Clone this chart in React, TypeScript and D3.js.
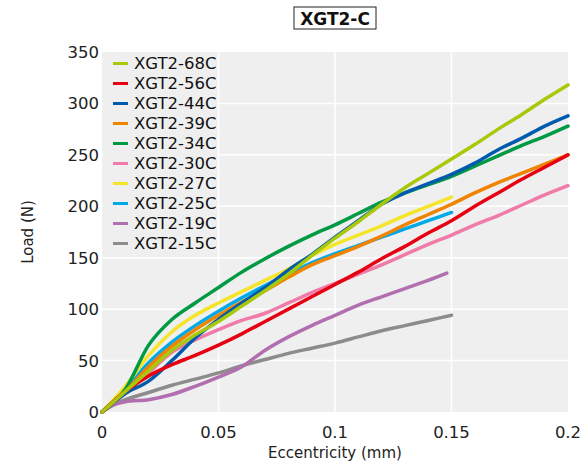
import React from 'react';
import * as d3 from 'd3';

// eccentricity (mm) sample points
const ECC_LONG = [0, 0.01, 0.02, 0.03, 0.04, 0.05, 0.06, 0.07, 0.08, 0.09, 0.1, 0.11, 0.12, 0.13, 0.14, 0.15, 0.16, 0.17, 0.18, 0.19, 0.2];
const ECC_SHORT = [0, 0.01, 0.02, 0.03, 0.04, 0.05, 0.06, 0.07, 0.08, 0.09, 0.1, 0.11, 0.12, 0.13, 0.14, 0.15];
const ECC_19C = [0, 0.005, 0.01, 0.02, 0.03, 0.04, 0.05, 0.06, 0.07, 0.08, 0.09, 0.1, 0.11, 0.12, 0.13, 0.14, 0.148];
const ECC_15C = [0, 0.005, 0.01, 0.02, 0.03, 0.04, 0.05, 0.06, 0.07, 0.08, 0.09, 0.1, 0.11, 0.12, 0.13, 0.14, 0.15];

// load (N)
const LOAD_68C = [0, 20, 40, 60, 75, 88, 103, 118, 134, 152, 169, 185, 202, 218, 232, 246, 260, 275, 289, 304, 318];
const LOAD_56C = [0, 20, 35, 46, 55, 65, 76, 88, 100, 112, 124, 136, 149, 161, 174, 186, 200, 213, 226, 238, 250];
const LOAD_44C = [0, 18, 30, 50, 72, 90, 106, 121, 138, 153, 170, 186, 202, 213, 222, 231, 242, 255, 266, 278, 288];
const LOAD_39C = [0, 20, 44, 64, 80, 94, 107, 118, 131, 143, 152, 161, 171, 182, 192, 202, 213, 223, 232, 241, 250];
const LOAD_34C = [0, 22, 65, 90, 106, 121, 136, 149, 161, 172, 182, 193, 204, 213, 221, 229, 239, 249, 259, 268, 278];
const LOAD_30C = [0, 18, 38, 58, 70, 80, 89, 96, 106, 116, 125, 134, 143, 153, 163, 172, 182, 191, 201, 211, 220];
const LOAD_27C = [0, 25, 55, 78, 94, 106, 117, 128, 139, 152, 163, 172, 181, 191, 200, 209];
const LOAD_25C = [0, 22, 48, 68, 84, 98, 111, 123, 134, 145, 154, 162, 170, 178, 186, 194];
const LOAD_19C = [0, 7, 10, 12, 17, 25, 34, 44, 60, 73, 84, 94, 104, 112, 120, 128, 135];
const LOAD_15C = [0, 7, 12, 19, 26, 32, 38, 45, 51, 57, 62, 67, 73, 79, 84, 89, 94];

const NAMES = ['XGT2-68C', 'XGT2-56C', 'XGT2-44C', 'XGT2-39C', 'XGT2-34C', 'XGT2-30C', 'XGT2-27C', 'XGT2-25C', 'XGT2-19C', 'XGT2-15C'];
const COLORS = ['#a8c80a', '#e60012', '#005bac', '#f08300', '#009944', '#f07aa8', '#f5e52a', '#00a9e8', '#b26fb0', '#8c8c8c'];
const XS = [ECC_LONG, ECC_LONG, ECC_LONG, ECC_LONG, ECC_LONG, ECC_LONG, ECC_SHORT, ECC_SHORT, ECC_19C, ECC_15C];
const YS = [LOAD_68C, LOAD_56C, LOAD_44C, LOAD_39C, LOAD_34C, LOAD_30C, LOAD_27C, LOAD_25C, LOAD_19C, LOAD_15C];

const X_TICKS = [0, 0.05, 0.1, 0.15, 0.2];
const Y_TICKS = [0, 50, 100, 150, 200, 250, 300, 350];

const W = 584;
const H = 465;
const margin = { top: 52, right: 16, bottom: 53, left: 102 };
const FONT = '"DejaVu Sans", "Noto Sans", sans-serif';

export default function App() {
  const x = d3.scaleLinear().domain([0, 0.2]).range([margin.left, W - margin.right]);
  const y = d3.scaleLinear().domain([0, 350]).range([H - margin.bottom, margin.top]);

  const line = d3.line<[number, number]>()
    .x(d => x(d[0]))
    .y(d => y(d[1]))
    .curve(d3.curveMonotoneX);

  const series = NAMES.map((name, i) => ({
    name,
    color: COLORS[i],
    pts: XS[i].map((e, j) => [e, YS[i][j]] as [number, number]),
  }));

  const cx = (x(0) + x(0.2)) / 2;
  const legendX = x(0) + 11;
  const legendY = y(350) + 11.5;
  const rowH = 20;

  return (
    <svg width={W} height={H} style={{ position: 'absolute', left: 0, top: 0, fontFamily: FONT }}>
      <rect x={0} y={0} width={W} height={H} fill="#fff" />
      {/* title */}
      <rect x={cx - 41} y={7} width={82} height={22} fill="#fff" stroke="#222" strokeWidth={1} />
      <text x={cx} y={24.5} textAnchor="middle" fontSize={17} fontWeight="bold" fill="#111">XGT2-C</text>

      {/* plot background */}
      <rect x={x(0)} y={y(350)} width={x(0.2) - x(0)} height={y(0) - y(350)} fill="#efefef" />
      {Y_TICKS.slice(1, -1).map(t => (
        <line key={'gy' + t} x1={x(0)} x2={x(0.2)} y1={y(t)} y2={y(t)} stroke="#fff" strokeWidth={1.5} />
      ))}
      {/* legend box hides grid behind it */}
      <rect x={x(0) + 1} y={y(350)} width={x(0.05) - x(0) - 2} height={rowH * NAMES.length + 2} fill="#efefef" />
      {X_TICKS.slice(1, -1).map(t => (
        <line key={'gx' + t} x1={x(t)} x2={x(t)} y1={y(0)} y2={y(350)} stroke="#fff" strokeWidth={1.5} />
      ))}

      {/* curves: draw last series first so 68C sits on top */}
      {series.slice().reverse().map(s => (
        <path key={s.name} d={line(s.pts) || ''} fill="none" stroke={s.color} strokeWidth={3.5} strokeLinejoin="round" strokeLinecap="round" />
      ))}

      {/* legend */}
      {series.map((s, i) => (
        <g key={'lg' + s.name} transform={`translate(${legendX},${legendY + i * rowH})`}>
          <line x1={0} x2={15} y1={0} y2={0} stroke={s.color} strokeWidth={3} />
          <text x={21} y={0} dy="0.36em" fontSize={16.5} fill="#111">{s.name}</text>
        </g>
      ))}

      {/* axes */}
      {Y_TICKS.map(t => (
        <text key={'yt' + t} x={x(0) - 3} y={y(t)} dy="0.36em" textAnchor="end" fontSize={16.5} fill="#222">{t}</text>
      ))}
      {X_TICKS.map(t => (
        <text key={'xt' + t} x={x(t)} y={y(0) + 26} textAnchor="middle" fontSize={16.5} fill="#222">{t}</text>
      ))}
      <text x={cx} y={y(0) + 46} textAnchor="middle" fontSize={15} fill="#222">Eccentricity (mm)</text>
      <text transform={`translate(33,${(y(0) + y(350)) / 2}) rotate(-90)`} textAnchor="middle" fontSize={15} fill="#222">Load (N)</text>
    </svg>
  );
}
